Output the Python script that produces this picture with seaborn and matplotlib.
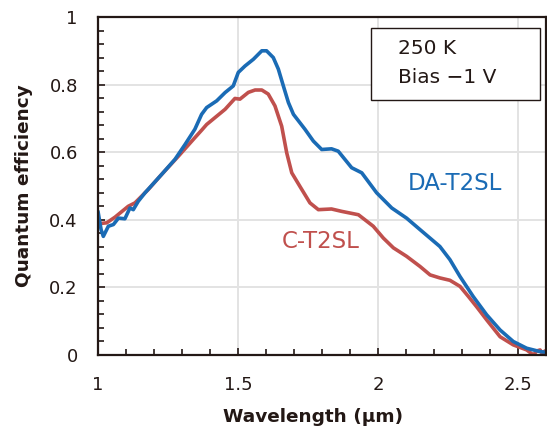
import numpy as np
import pandas as pd
import matplotlib
matplotlib.use("Agg")
import matplotlib.pyplot as plt
import seaborn as sns
from matplotlib.ticker import MultipleLocator
from matplotlib.patches import Rectangle

# DA-T2SL (blue)
da_wl = [1.0, 1.011, 1.019, 1.037, 1.055, 1.073, 1.096, 1.114, 1.126, 1.144, 1.168, 1.227,
         1.275, 1.311, 1.346, 1.37, 1.388, 1.424, 1.454, 1.483, 1.501, 1.525, 1.555, 1.585,
         1.602, 1.626, 1.644, 1.662, 1.680, 1.698, 1.739, 1.769, 1.799, 1.834, 1.858, 1.906,
         1.942, 1.995, 2.049, 2.102, 2.15, 2.221, 2.257, 2.293, 2.34, 2.388, 2.436, 2.483,
         2.531, 2.579, 2.6]
da_qe = [0.425, 0.371, 0.351, 0.381, 0.386, 0.405, 0.403, 0.435, 0.43, 0.455, 0.48, 0.534,
         0.579, 0.623, 0.668, 0.712, 0.732, 0.752, 0.7765, 0.796, 0.836, 0.855, 0.875, 0.90,
         0.90, 0.880, 0.846, 0.796, 0.747, 0.712, 0.668, 0.633, 0.608, 0.610, 0.603, 0.554,
         0.539, 0.480, 0.435, 0.405, 0.371, 0.321, 0.282, 0.232, 0.173, 0.119, 0.074, 0.040,
         0.020, 0.010, 0.008]

# C-T2SL (red)
c_wl = [1.0, 1.007, 1.031, 1.061, 1.108, 1.132, 1.18, 1.227, 1.287, 1.346, 1.37, 1.388,
        1.454, 1.489, 1.507, 1.537, 1.561, 1.585, 1.608, 1.632, 1.656, 1.674, 1.692, 1.721,
        1.757, 1.787, 1.834, 1.870, 1.930, 1.983, 2.019, 2.055, 2.102, 2.15, 2.186, 2.221,
        2.257, 2.293, 2.323, 2.352, 2.388, 2.436, 2.483, 2.531, 2.555, 2.567, 2.579, 2.588, 2.596, 2.6]
c_qe = [0.39, 0.389, 0.391, 0.408, 0.44, 0.45, 0.49, 0.534, 0.588, 0.643, 0.665, 0.682,
        0.727, 0.759, 0.757, 0.777, 0.784, 0.784, 0.772, 0.737, 0.677, 0.598, 0.539, 0.499,
        0.45, 0.430, 0.432, 0.425, 0.415, 0.381, 0.346, 0.317, 0.292, 0.262, 0.237, 0.228,
        0.221, 0.203, 0.173, 0.143, 0.104, 0.054, 0.030, 0.015, 0.0, 0.012, 0.015, 0.002, 0.012, 0.005]

blue = "#1a6bb5"
red = "#c0504d"
ink = "#231815"

df = pd.concat([
    pd.DataFrame({"wl": da_wl, "qe": da_qe, "s": "DA-T2SL"}),
    pd.DataFrame({"wl": c_wl, "qe": c_qe, "s": "C-T2SL"}),
])

sns.set_style("white")
plt.rcParams['font.family'] = ['DejaVu Sans']

fig = plt.figure(figsize=(5.47, 4.30), dpi=100)
ax = fig.add_axes([98/547, 1 - 355/430, (546-98)/547, (355-17)/430])

sns.lineplot(data=df, x="wl", y="qe", hue="s", palette={"DA-T2SL": blue, "C-T2SL": red},
             hue_order=["C-T2SL", "DA-T2SL"], linewidth=2.6, legend=False, ax=ax, sort=False)

ax.set_xlim(1.0, 2.6)
ax.set_ylim(0, 1.0)
ax.xaxis.set_minor_locator(MultipleLocator(0.1))
ax.yaxis.set_minor_locator(MultipleLocator(0.04))
ax.set_xticks([1, 1.5, 2, 2.5])
ax.set_xticklabels(["1", "1.5", "2", "2.5"])
ax.set_yticks([0, 0.2, 0.4, 0.6, 0.8, 1.0])
ax.set_yticklabels(["0", "0.2", "0.4", "0.6", "0.8", "1"])
ax.grid(True, which="major", color="#e3e3e3", linewidth=1.4)
ax.set_axisbelow(True)
ax.tick_params(which="both", direction="in", color=ink, width=1.2,
               labelsize=13, labelcolor=ink, top=False, right=False, bottom=True, left=True)
ax.tick_params(which="major", length=5)
ax.tick_params(which="minor", length=4)
ax.tick_params(axis="x", pad=15)
ax.tick_params(axis="y", pad=14.5)
for side in ["left", "bottom", "top", "right"]:
    ax.spines[side].set_visible(True)
    ax.spines[side].set_color(ink)
    ax.spines[side].set_linewidth(1.6)

ax.set_xlabel("Wavelength (μm)", fontsize=13.3, fontweight="bold", color=ink)
ax.set_ylabel("Quantum efficiency", fontsize=13.3, fontweight="bold", color=ink)
ax.xaxis.set_label_coords((313-98)/448, (355-422)/338)
ax.xaxis.label.set_va("baseline")
ax.yaxis.set_label_coords((33-98)/448, 0.5)

ax.text(2.107, 0.4896, "DA-T2SL", color=blue, fontsize=16.5, ha="left", va="baseline")
ax.text(1.657, 0.3175, "C-T2SL", color=red, fontsize=16.5, ha="left", va="baseline")

ax.add_patch(Rectangle(((370.5-98)/448, (355-99.5)/338), (540-370.5)/448, (99.5-28.3)/338,
                       transform=ax.transAxes, facecolor="white", edgecolor=ink,
                       linewidth=1.0, zorder=5))
ax.text((398-98)/448, (355-54)/338, "250 K", transform=ax.transAxes, fontsize=14.5,
        color=ink, ha="left", va="baseline", zorder=6)
ax.text((398-98)/448, (355-83.3)/338, "Bias \u22121 V", transform=ax.transAxes, fontsize=14.5,
        color=ink, ha="left", va="baseline", zorder=6)

fig.savefig("out.png", dpi=100)
